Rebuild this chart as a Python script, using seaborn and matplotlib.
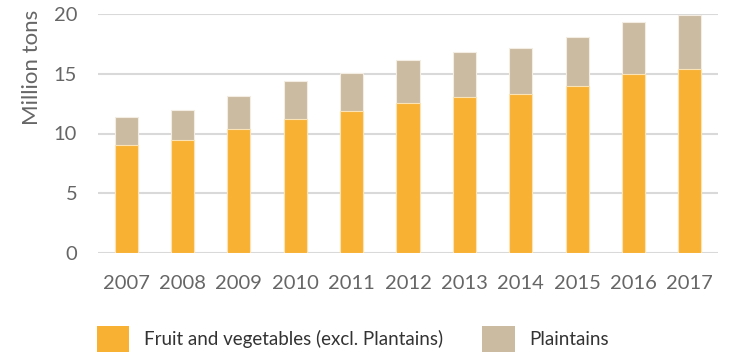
import matplotlib
matplotlib.use("Agg")
import matplotlib.pyplot as plt
from matplotlib.patches import Patch
import seaborn as sns
import pandas as pd

years = ["2007", "2008", "2009", "2010", "2011", "2012", "2013", "2014", "2015", "2016", "2017"]
fruit_veg = [9.06, 9.48, 10.37, 11.18, 11.91, 12.53, 13.05, 13.31, 14.0, 15.02, 15.38]
plantains = [2.35, 2.52, 2.80, 3.22, 3.16, 3.58, 3.73, 3.83, 4.09, 4.33, 4.55]
series_names = ["Fruit and vegetables (excl. Plantains)", "Plaintains"]

df = pd.DataFrame({"year": years, "fv": fruit_veg, "pl": plantains})
df["total"] = df["fv"] + df["pl"]

sns.set_theme(style="white")
plt.rcParams["font.family"] = ["Lato", "DejaVu Sans"]

orange = "#F8B133"
tan = "#CBBBA1"
tick_col = "#666666"

fig = plt.figure(figsize=(7.33, 3.52), dpi=100)
ax = fig.add_axes([98 / 733, 1 - 253 / 352, 620 / 733, 239 / 352])

sns.barplot(data=df, x="year", y="total", color=tan, width=0.41, ax=ax,
            edgecolor="#f3ede3", linewidth=0.8, saturation=1)
sns.barplot(data=df, x="year", y="fv", color=orange, width=0.41, ax=ax,
            edgecolor="#fbe3b5", linewidth=0.8, saturation=1)

ax.set_ylim(0, 20)
ax.set_xlim(-0.5, 10.5)
ax.set_yticks([0, 5, 10, 15, 20])
ax.yaxis.grid(True, color="#d9d9d9", linewidth=1.5)
ax.set_axisbelow(True)
for s in ax.spines.values():
    s.set_visible(False)
ax.tick_params(axis="both", length=0, labelsize=14.5, labelcolor=tick_col)
ax.tick_params(axis="y", pad=15)
ax.tick_params(axis="x", pad=16)
ax.set_xlabel("")
ax.set_ylabel("Million tons", fontsize=16, color=tick_col)
ax.yaxis.set_label_coords(-0.09, 0.775)

handles = [Patch(facecolor=orange, edgecolor="none"), Patch(facecolor=tan, edgecolor="none")]
leg = fig.legend(handles, series_names, loc="lower left", bbox_to_anchor=(97 / 733, 0.0),
                 ncol=2, frameon=False, fontsize=13.5, handlelength=1.72, handleheight=1.72,
                 handletextpad=0.78, columnspacing=2.1, labelcolor="#333333",
                 borderpad=0, borderaxespad=0)

fig.savefig("out.png", dpi=100)
